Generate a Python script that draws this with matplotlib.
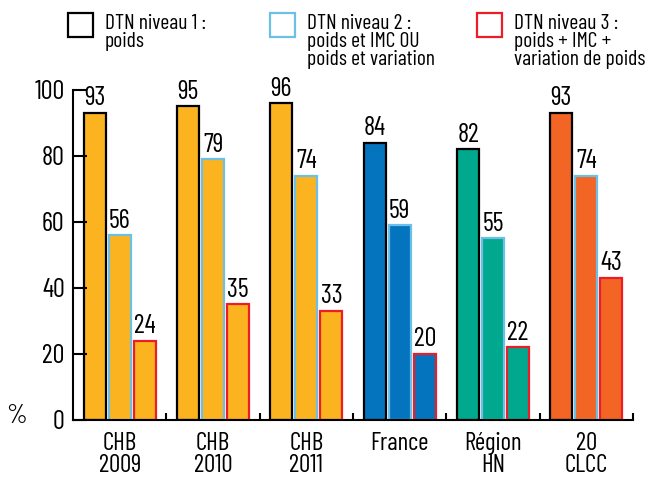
import numpy as np
import matplotlib.pyplot as plt
from matplotlib.patches import Rectangle

plt.rcParams['font.family'] = ['Barlow Condensed', 'DejaVu Sans']
plt.rcParams['font.weight'] = 'normal'

categories = ['CHB\n2009', 'CHB\n2010', 'CHB\n2011', 'France', 'Région\nHN', '20\nCLCC']
niveau1 = [93, 95, 96, 84, 82, 93]
niveau2 = [56, 79, 74, 59, 55, 74]
niveau3 = [24, 35, 33, 20, 22, 43]
legend_labels = ['DTN niveau 1 :\npoids',
                 'DTN niveau 2 :\npoids et IMC OU\npoids et variation',
                 'DTN niveau 3 :\npoids + IMC +\nvariation de poids']

face_colors = ['#fbb31f', '#fbb31f', '#fbb31f', '#0574bf', '#00a98e', '#f26524']
edge_colors = ['#000000', '#6cc0e8', '#ee1d25']

fig = plt.figure(figsize=(6.5, 4.79), dpi=100)
ax = fig.add_axes([0.1123, 0.1232, 0.8617, 0.689])

x = np.arange(len(categories))
offsets = [-0.268, 0, 0.268]
width = 0.235
for series, off, ec in zip([niveau1, niveau2, niveau3], offsets, edge_colors):
    bars = ax.bar(x + off, series, width, color=face_colors, edgecolor=ec, linewidth=1.6)
    for b, v in zip(bars, series):
        ax.text(b.get_x() + b.get_width() / 2, v + 0.8, str(v),
                ha='center', va='bottom', fontsize=19)

ax.set_xlim(-0.5, 5.5)
ax.set_ylim(0, 100)
ax.set_yticks([0, 20, 40, 60, 80, 100])
ax.tick_params(axis='y', direction='in', length=10, width=1.5, pad=6, labelsize=19)
ax.set_xticks(np.arange(0.5, 6, 1))
ax.set_xticklabels([])
ax.tick_params(axis='x', which='major', direction='in', length=5, width=1.5)
ax.set_xticks(x, minor=True)
ax.set_xticklabels(categories, minor=True, fontsize=18, linespacing=0.92)
ax.tick_params(axis='x', which='minor', length=0, pad=9)
for s in ['top', 'right']:
    ax.spines[s].set_visible(False)
for s in ['left', 'bottom']:
    ax.spines[s].set_linewidth(1.5)

fig.text(0.0246, 0.1315, '%', fontsize=19, ha='center', va='center')

# legend
box_x = [68, 270, 477]
text_x = [105, 307, 514]
for bx, tx, ec, lab in zip(box_x, text_x, edge_colors, legend_labels):
    fig.add_artist(Rectangle((bx / 650, 1 - 37 / 479), 25 / 650, 24 / 479,
                             transform=fig.transFigure, facecolor='white',
                             edgecolor=ec, linewidth=1.6))
    fig.text(tx / 650, 1 - 14 / 479, lab, fontsize=15.5, ha='left', va='top',
             linespacing=0.93)

fig.savefig('out.png', dpi=100)
